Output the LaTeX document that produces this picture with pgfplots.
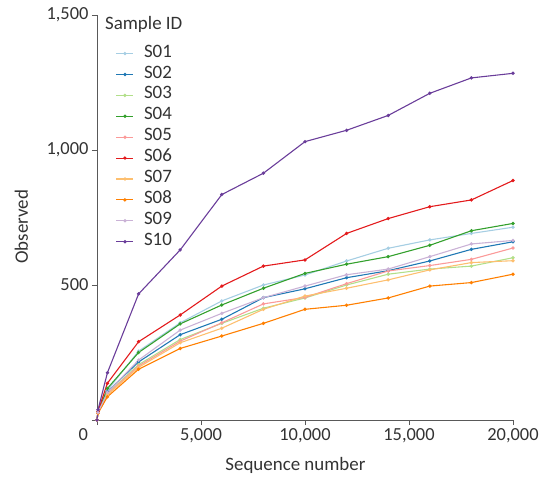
\documentclass[border=0pt]{standalone}
\usepackage{pgfplots}
\pgfplotsset{compat=1.18}
\usepackage{pgfplotstable}
\usepackage{fontspec}
\setmainfont{Carlito}
\definecolor{cA}{HTML}{A6CEE3}
\definecolor{cB}{HTML}{1F78B4}
\definecolor{cC}{HTML}{B2DF8A}
\definecolor{cD}{HTML}{33A02C}
\definecolor{cE}{HTML}{FB9A99}
\definecolor{cF}{HTML}{E31A1C}
\definecolor{cG}{HTML}{FDBF6F}
\definecolor{cH}{HTML}{FF7F00}
\definecolor{cI}{HTML}{CAB2D6}
\definecolor{cJ}{HTML}{6A3D9A}
\definecolor{axgray}{HTML}{595959}
\definecolor{txtgray}{HTML}{333333}
\pgfplotstableread{
x     S01 S02 S03 S04 S05 S06 S07 S08 S09 S10
0     0   0   0   0   0   0   0   0   0   0
50    28  28  27  30  27  32  26  25  28  38
500   110 105 98  117 97  136 93  86  102 175
2000  255 215 205 250 200 290 195 188 222 467
4000  360 316 298 356 292 389 286 265 333 630
6000  441 373 358 426 360 496 340 311 395 835
8000  500 453 414 488 430 570 410 358 453 914
10000 537 486 452 543 454 593 459 410 496 1031
12000 589 527 500 577 505 691 488 425 538 1073
14000 636 553 540 605 552 746 519 452 559 1128
16000 667 589 559 647 572 790 556 496 605 1210
18000 691 632 570 701 595 815 583 509 652 1267
20000 714 660 601 728 637 887 590 540 665 1284
}\datatable
\begin{document}
\begin{tikzpicture}
\begin{axis}[
  scale only axis,
  width=416bp, height=405bp,
  at={(0,0)}, anchor=south west,
  xmin=0, xmax=20000, ymin=0, ymax=1500,
  scaled ticks=false,
  axis lines=left,
  axis line style={-, draw=axgray, line width=0.9pt},
  tick style={draw=axgray, line width=0.9pt},
  tick align=outside,
  major tick length=5bp,
  xtick={0,5000,10000,15000,20000},
  xticklabels={{\makebox[0pt][r]{0\hspace{9bp}}},{5,000},{10,000},{15,000},{20,000}},
  ytick={0,500,1000,1500},
  yticklabels={,500,{1,000},{1,500}},
  ticklabel style={font=\fontsize{18.5}{20}\selectfont, text=txtgray},
  xlabel={Sequence number},
  ylabel={Observed},
  label style={font=\fontsize{19}{21}\selectfont, text=txtgray},
  xlabel style={at={(axis description cs:0.477,-0.125)}, anchor=base},
  ylabel style={at={(axis description cs:-0.1815,0.477)}, anchor=center},
  clip=false,
  every axis plot/.append style={line width=1.1pt, mark=*, mark size=1.1pt},
  legend style={at={(rel axis cs:0.045,0.931)}, anchor=north west,
    draw=none, fill=none, inner sep=0pt, row sep=0pt, column sep=0pt,
    font=\fontsize{19}{21}\selectfont,
    /tikz/every odd column/.append style={column sep=7bp},
    nodes={inner xsep=3bp, inner ysep=0pt, text height=14bp, text depth=6.9bp, text=txtgray}},
  legend cell align=left,
]
\addplot[color=cA] table[x=x,y=S01]{\datatable};
\addlegendentry{S01}
\addplot[color=cB] table[x=x,y=S02]{\datatable};
\addlegendentry{S02}
\addplot[color=cC] table[x=x,y=S03]{\datatable};
\addlegendentry{S03}
\addplot[color=cD] table[x=x,y=S04]{\datatable};
\addlegendentry{S04}
\addplot[color=cE] table[x=x,y=S05]{\datatable};
\addlegendentry{S05}
\addplot[color=cF] table[x=x,y=S06]{\datatable};
\addlegendentry{S06}
\addplot[color=cG] table[x=x,y=S07]{\datatable};
\addlegendentry{S07}
\addplot[color=cH] table[x=x,y=S08]{\datatable};
\addlegendentry{S08}
\addplot[color=cI] table[x=x,y=S09]{\datatable};
\addlegendentry{S09}
\addplot[color=cJ] table[x=x,y=S10]{\datatable};
\addlegendentry{S10}
\node[anchor=base west, font=\fontsize{19}{21}\selectfont, text=txtgray, inner sep=0pt] at (rel axis cs:0.019,0.963) {Sample ID};
\end{axis}
\pgfresetboundingbox
\useasboundingbox (-97bp,-57bp) rectangle (451bp,420bp);
\end{tikzpicture}
\end{document}
